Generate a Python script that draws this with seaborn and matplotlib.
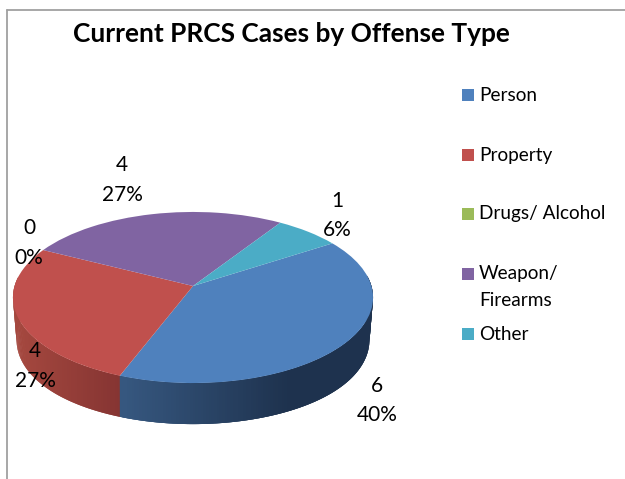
import numpy as np
import matplotlib
matplotlib.use("Agg")
import matplotlib.pyplot as plt
from matplotlib.transforms import Transform
from matplotlib.patches import Rectangle
from matplotlib.lines import Line2D
import seaborn as sns

title = "Current PRCS Cases by Offense Type"
categories = ["Person", "Property", "Drugs/ Alcohol", "Weapon/\nFirearms", "Other"]
values = [6, 4, 0, 4, 1]
percents = ["40%", "27%", "0%", "27%", "6%"]
colors = ["#4F81BD", "#C0504D", "#9BBB59", "#8064A2", "#4BACC6"]

sns.set_theme(style="white")
plt.rcParams["font.family"] = ["Lato", "DejaVu Sans"]
palette = sns.color_palette(colors)

W, H = 625, 479
fig = plt.figure(figsize=(W / 100, H / 100), dpi=100, facecolor="white")
ax = fig.add_axes([0, 0, 1, 1])

# Perspective view of the unit pie, expressed in pixel coordinates
CX, CY, A, B, K = 193.0, 286.0, 178.4, 84.0, 0.1345
DEPTH, SHRINK = 42.5, 0.985


class Tilt(Transform):
    input_dims = 2
    output_dims = 2
    is_separable = False
    has_inverse = False

    def transform_non_affine(self, xy):
        xy = np.asarray(xy, dtype=float)
        w = 1 + K * xy[:, 1]
        return np.column_stack([CX + A * xy[:, 0] / w, CY - B * xy[:, 1] / w])


tilt = Tilt()
wedges, _ = ax.pie(values, colors=palette, startangle=33, counterclock=False,
                   wedgeprops=dict(linewidth=0))
ax.set_aspect("auto")
ax.set_xlim(0, W)
ax.set_ylim(H, 0)
ax.axis("off")
for w in wedges:
    w.set_transform(tilt + ax.transData)
    w.set_zorder(5)


def rim(theta_deg):
    t = np.radians(theta_deg)
    return tilt.transform_non_affine(np.column_stack([np.cos(t), np.sin(t)]))


def lower(p):
    q = p.copy()
    u = (p[:, 0] - CX) / 180.0
    q[:, 0] = CX + (p[:, 0] - CX) * (1 - 0.02 * u ** 4)
    q[:, 1] = CY + (p[:, 1] - CY) * SHRINK + DEPTH
    return q


# Shaded front wall for every slice that faces the viewer
shades = {0: ("#36577F", "#1E324E", 121, 285), 1: ("#A5483F", "#853432", 16, 121)}
for i, (left, right, x0, x1) in shades.items():
    a, b = sorted((wedges[i].theta1, wedges[i].theta2))
    c0, c1 = np.array(matplotlib.colors.to_rgb(left)), np.array(matplotlib.colors.to_rgb(right))
    steps = np.arange(a, b, 0.75)
    if i == 0:
        steps = steps[::-1]          # paint toward the seam so overlaps stay hidden
    for t in steps:
        if np.sin(np.radians(t + 0.4)) >= 0.12:
            continue
        hi = min(t + 1.5, b)
        lo = max(t - 0.75, a) if i == 0 else t
        top = rim(np.linspace(lo, hi, 4))
        poly = np.vstack([top, lower(top)[::-1]])
        f = np.clip((rim(np.array([t]))[0, 0] - x0) / (x1 - x0), 0, 1)
        ax.fill(poly[:, 0], poly[:, 1], facecolor=c0 + (c1 - c0) * f, edgecolor="none",
                lw=0, zorder=2 + (0.1 if i == 0 else 0))

# Frame lines of the chart area
ax.add_line(Line2D([6.5, 6.5], [10, H], color="#A0A0A0", lw=1.3, zorder=1))
ax.add_line(Line2D([6.5, W], [10, 10], color="#A0A0A0", lw=1.3, zorder=1))

ax.text(291, 33.5, title, ha="center", va="center", fontsize=18.9,
        fontweight="bold", color="black")

# Data labels
label_xy = [(377, 400.5), (35, 366), (29, 243), (122, 180), (337, 215.5)]
for v, p, (x, y) in zip(values, percents, label_xy):
    ax.text(x, y, f"{v}\n{p}", ha="center", va="center", fontsize=15,
            color="black", linespacing=1.62, zorder=6)

# Legend
legend_y = [95, 155, 214, 274, 334]
for name, col, y in zip(categories, palette, legend_y):
    ax.add_patch(Rectangle((462, y - 6), 12, 12, facecolor=col, lw=0, zorder=6))
    lines = name.split("\n")
    for j, line in enumerate(lines):
        ax.text(479, y + j * 26, line, ha="left", va="center", fontsize=13.7, color="black")

fig.savefig("out.png", dpi=100, facecolor="white")
